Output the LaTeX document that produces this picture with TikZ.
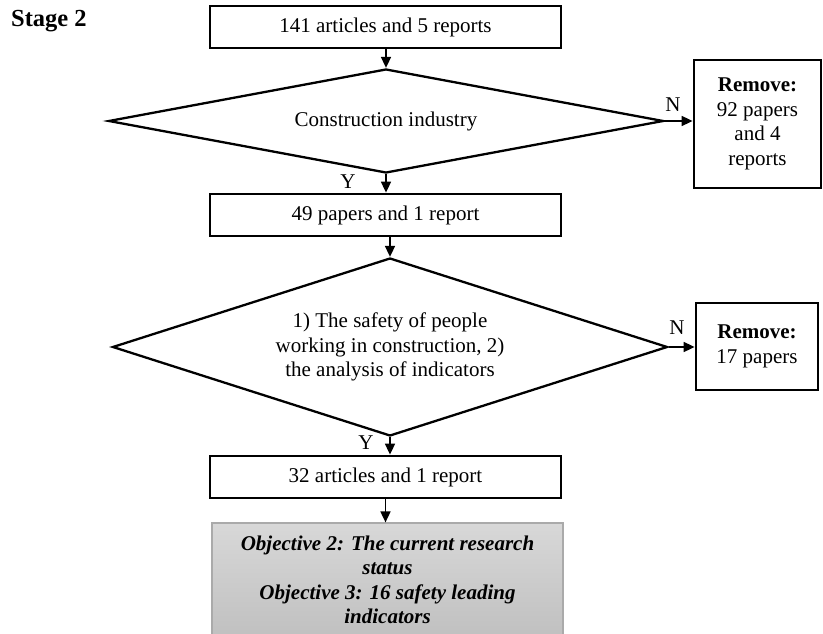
\documentclass[tikz,border=0pt]{standalone}
\usepackage{fontspec}
\setmainfont{Liberation Serif}
\usetikzlibrary{shapes.geometric,arrows.meta}
\definecolor{objtop}{RGB}{216,216,216}
\definecolor{objbot}{RGB}{192,192,192}
\definecolor{objline}{RGB}{170,170,170}
\newcommand{\mf}{\fontsize{21}{24.5}\selectfont}
\begin{document}
\begin{tikzpicture}[x=1pt,y=-1pt,
  stepbox/.style={draw, line width=2.8pt, minimum width=351, minimum height=42, inner sep=0pt, font=\mf, align=center},
  decision/.style={diamond, draw, line width=2.3pt, minimum width=555, minimum height=#1, inner sep=0pt, font=\mf, align=center, shape aspect=3},
  removebox/.style={draw, line width=2.8pt, inner sep=0pt, font=\mf, align=center},
  flow/.style={line width=1.7pt, -{Triangle[length=11pt,width=10pt]}},
  yn/.style={font=\mf, inner sep=0pt}
]
\useasboundingbox (0,0) rectangle (823,634);

\node[font=\fontsize{24.5}{28}\selectfont\bfseries, anchor=west, inner sep=0pt] (stage) at (11,21) {Stage 2};

\node[stepbox] (b1) at (385.5,27) {141 articles and 5 reports};
\node[decision=104] (d1) at (386,121) {Construction industry};
\node[removebox, minimum width=127, minimum height=128] (r1) at (757.5,124) {\textbf{Remove:}\\92 papers\\and 4\\reports};
\node[stepbox] (b2) at (385.5,215) {49 papers and 1 report};
\node[decision=178] (d2) at (390,347) {1) The safety of people\\working in construction, 2)\\the analysis of indicators};
\node[removebox, minimum width=122, minimum height=87] (r2) at (757,346.5) {\textbf{Remove:}\\17 papers};
\node[stepbox] (b3) at (385.5,477) {32 articles and 1 report};
\node[draw=objline, line width=1.2pt, top color=objtop, bottom color=objbot, minimum width=351, minimum height=114, inner sep=0pt, align=center, font=\mf\bfseries\itshape] (b4) at (387.5,580) {Objective 2: The current research\\status\\Objective 3: 16 safety leading\\indicators};

\draw[flow] (b1.south -| d1.north) -- (d1.north);
\draw[flow] (d1.south) -- (d1.south |- b2.north);
\draw[flow] (b2.south -| d2.north) -- (d2.north);
\draw[flow] (d2.south) -- (d2.south |- b3.north);
\draw[flow] (b3.south) -- (b3.south |- b4.north);
\draw[flow] (d1.east) -- (d1.east -| r1.west);
\draw[flow] (d2.east) -- (d2.east -| r2.west);

\node[yn] (n1) at (673,105) {N};
\node[yn] (n2) at (677,328) {N};
\node[yn] (y1) at (348,182) {Y};
\node[yn] (y2) at (366,443) {Y};
\end{tikzpicture}
\end{document}
